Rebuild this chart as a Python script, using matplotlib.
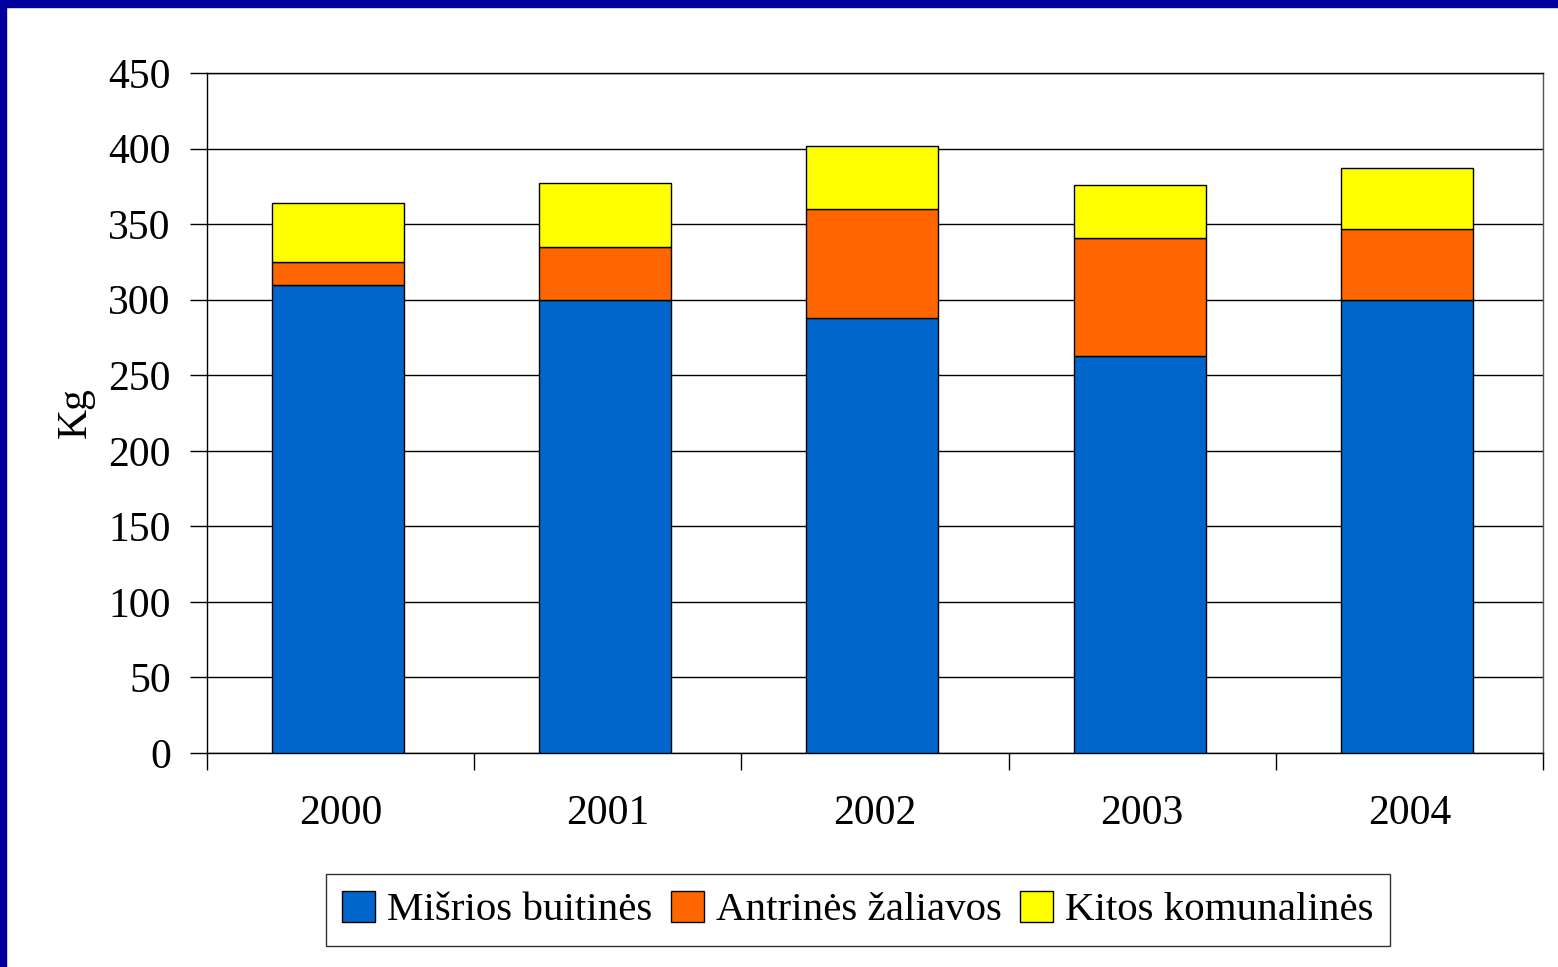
import numpy as np
import matplotlib.pyplot as plt
from matplotlib.patches import Rectangle


years = ['2000', '2001', '2002', '2003', '2004']
misrios = [310, 300, 288, 263, 300]
antrines = [15, 35, 72, 78, 47]
kitos = [39, 42, 42, 35, 40]
labels = ['Mišrios buitinės', 'Antrinės žaliavos', 'Kitos komunalinės']
colors = ['#0066CC', '#FF6600', '#FFFF00']

plt.rcParams['font.family'] = ['Liberation Serif', 'DejaVu Serif']

fig = plt.figure(figsize=(15.58, 9.67), dpi=100)
ax = fig.add_axes([207 / 1558, 1 - 753 / 967, 1336 / 1558, 680 / 967])

x = np.arange(len(years))
w = 0.494
bottom = np.zeros(len(years))
for vals, lab, col in zip([misrios, antrines, kitos], labels, colors):
    ax.bar(x - 0.01, vals, w, bottom=bottom, color=col, edgecolor='black', linewidth=1,
           label=lab, zorder=3)
    bottom += np.array(vals)

ax.set_xlim(-0.5, len(years) - 0.5)
ax.set_ylim(0, 450)
ax.set_yticks(np.arange(0, 451, 50))
ax.yaxis.grid(True, color='black', linewidth=1, zorder=0)
ax.set_xticks(np.arange(-0.5, len(years), 1))
ax.set_xticklabels([])
ax.set_xticks(x, minor=True)
ax.set_xticklabels(years, minor=True, fontsize=30)
ax.tick_params(axis='x', which='major', length=12, direction='out', width=1)
ax.tick_params(axis='x', which='minor', length=0, pad=30)
ax.tick_params(axis='y', length=12, width=1, labelsize=30, pad=14)
for s in ax.spines.values():
    s.set_linewidth(1)
ax.spines['right'].set_color('#555555')
ax.set_ylabel('Kg', fontsize=30, labelpad=10)

leg = fig.legend(loc='center', bbox_to_anchor=(858 / 1558, 1 - 910 / 967), ncol=3,
                 fontsize=29.5, frameon=True, fancybox=False, edgecolor='black',
                 handlelength=0.8, handleheight=0.8, handletextpad=0.3,
                 columnspacing=0.45, borderpad=0.4)
leg.get_frame().set_linewidth(1)

# dark blue frame at top and left
fig.patches.append(Rectangle((0, 1 - 7 / 967), 1, 7 / 967, transform=fig.transFigure,
                             color='#00009C', zorder=10))
fig.patches.append(Rectangle((0, 0), 6 / 1558, 1, transform=fig.transFigure,
                             color='#00009C', zorder=10))

fig.savefig('out.png', dpi=100)
